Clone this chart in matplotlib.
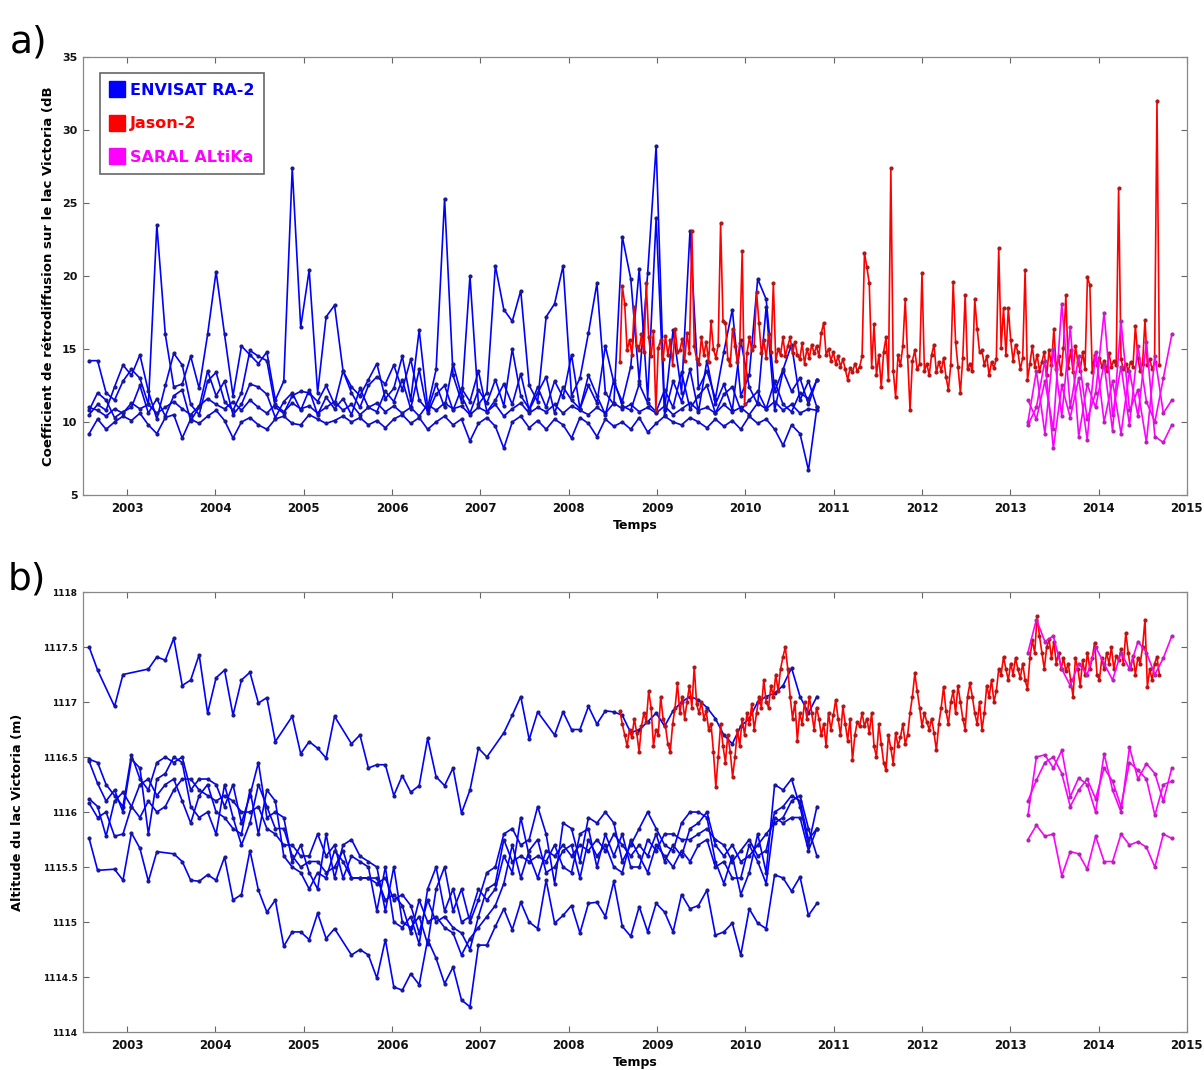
import numpy as np
import matplotlib
matplotlib.use("Agg")
import matplotlib.pyplot as plt
from matplotlib.lines import Line2D

plt.rcParams['font.family'] = ['DejaVu Sans']

# ---------------- time sampling (satellite repeat cycles) ----------------
ENVISAT_START, ENVISAT_CYCLE_DAYS = 2002.57, 35.0
JASON_START, JASON_CYCLE_DAYS = 2008.58, 9.9156
SARAL_START, SARAL_CYCLE_DAYS = 2013.20, 35.0

# ---------------- panel a : backscatter (dB) ----------------
env_sig_a = [
 [14.2, 14.2, 12.0, 11.5, 12.8, 13.6, 13.0, 11.2, 23.5, 16.0,
  12.4, 12.6, 14.5, 12.3, 16.0, 20.3, 16.0, 11.8, 15.2, 14.6,
  14.0, 14.8, 11.5, 12.8, 27.4, 16.5, 20.4, 12.0, 17.2, 18.0,
  13.5, 12.4, 11.8, 12.9, 14.0, 11.6, 12.3, 14.5, 11.5, 16.3,
  11.0, 13.6, 25.3, 13.2, 11.4, 20.0, 11.2, 12.0, 20.7, 17.7,
  16.9, 19.0, 12.5, 11.4, 17.2, 18.1, 20.7, 11.8, 13.0, 16.1,
  19.5, 12.0, 11.2, 22.7, 19.8, 12.8, 20.2, 28.9, 10.8, 16.3,
  12.0, 23.1, 12.3, 13.5, 11.6, 14.8, 17.7, 11.8, 13.2, 19.8,
  18.4, 12.1, 13.6, 15.3, 11.5, 12.8, 11.0],
 [10.5, 11.2, 10.8, 12.4, 13.9, 13.2, 14.6, 12.1, 10.2, 12.5,
  14.7, 13.9, 11.2, 10.5, 12.8, 13.4, 11.4, 10.8, 12.0, 14.9,
  14.5, 14.2, 11.0, 10.6, 11.8, 12.1, 12.0, 11.4, 12.5, 11.2,
  13.5, 12.0, 11.0, 12.5, 13.1, 12.6, 13.9, 12.2, 14.3, 11.5,
  10.8, 12.6, 11.0, 14.0, 11.8, 10.6, 12.2, 11.3, 12.9, 11.1,
  15.0, 11.8, 10.9, 12.4, 11.0, 12.8, 11.7, 14.6, 10.9, 12.5,
  11.3, 15.2, 12.7, 11.4, 13.8, 20.5, 11.6, 24.0, 10.5, 12.8,
  11.4, 13.6, 10.7, 14.2, 11.2, 12.6, 10.8, 15.6, 12.4, 11.2,
  17.9, 10.8, 13.5, 12.1, 13.0, 11.2, 12.9],
 [11.0, 10.8, 10.4, 10.9, 10.6, 11.3, 10.9, 11.2, 10.6, 11.0,
  11.4, 10.9, 10.5, 11.1, 11.6, 11.2, 10.9, 11.4, 10.8, 11.5,
  11.0, 10.6, 11.2, 10.7, 11.3, 10.9, 11.1, 10.6, 11.0, 11.4,
  10.8, 11.2, 10.5, 11.0, 11.3, 10.7, 11.1, 10.6, 11.0, 10.4,
  11.2, 10.8, 11.3, 10.9, 11.1, 10.5, 11.0, 10.7, 11.2, 10.4,
  10.9, 11.3, 10.6, 11.0, 10.7, 11.2, 10.6, 11.1, 10.8, 10.5,
  11.0, 10.6, 11.3, 10.9, 11.2, 10.7, 11.0, 10.6, 11.1, 10.5,
  10.9, 11.3, 10.8, 11.0, 10.6, 11.2, 10.7, 11.0, 10.5, 11.3,
  10.9, 11.4, 10.8, 11.2, 10.6, 10.9, 10.8],
 [9.2, 10.2, 9.5, 10.0, 10.4, 10.1, 10.6, 9.8, 9.2, 10.3,
  10.5, 8.9, 10.2, 9.9, 10.4, 10.8, 10.1, 8.9, 10.0, 10.3,
  9.8, 9.5, 10.2, 10.4, 9.9, 9.8, 10.5, 10.2, 9.9, 10.1,
  10.4, 10.0, 10.3, 9.8, 10.1, 9.6, 10.2, 10.5, 9.9, 10.3,
  9.5, 10.0, 10.4, 9.8, 10.2, 8.7, 9.9, 10.3, 9.7, 8.2,
  10.0, 10.4, 9.6, 10.1, 9.5, 10.2, 9.8, 8.9, 10.3, 9.9,
  9.0, 10.2, 9.7, 10.0, 9.5, 10.3, 9.3, 9.9, 10.4, 10.0,
  9.8, 10.3, 10.0, 9.6, 10.2, 9.7, 10.1, 9.5, 10.4, 9.9,
  10.2, 9.5, 8.4, 9.8, 9.2, 6.7, 11.0],
 [10.8, 12.0, 11.5, 10.3, 10.7, 11.0, 12.5, 10.6, 11.6, 10.4,
  11.8, 12.2, 10.1, 11.0, 13.5, 11.8, 12.8, 10.5, 11.2, 12.6,
  12.4, 11.9, 10.3, 11.4, 12.0, 10.8, 12.2, 10.5, 11.7, 10.9,
  11.6, 10.5, 12.3, 11.0, 10.7, 12.1, 11.4, 12.9, 10.9, 13.6,
  10.6, 11.9, 12.5, 10.8, 12.3, 11.4, 13.5, 10.7, 11.5, 12.6,
  11.2, 13.3, 10.8, 12.0, 13.1, 10.6, 12.4, 11.5, 10.9, 13.2,
  11.8, 10.5, 12.9, 11.1, 10.8, 12.6, 11.3, 10.7, 12.2, 11.0,
  13.4, 10.9, 11.8, 12.5, 10.6, 11.9, 12.4, 10.8, 11.5, 12.1,
  10.9, 12.8, 11.2, 10.7, 12.0, 11.6, 12.9],
]

jason_sig_a = [
 14.1, 19.3, 18.1, 14.9, 15.6, 14.6, 17.9, 15.2, 14.9, 16.0,
 14.8, 19.5, 15.8, 14.5, 16.2, 10.8, 15.1, 15.6, 14.3, 15.9,
 14.6, 15.6, 13.9, 16.4, 14.8, 14.9, 15.7, 14.2, 16.1, 14.7,
 23.1, 15.2, 14.3, 14.0, 15.8, 14.6, 15.5, 14.1, 16.9, 15.0,
 14.4, 15.3, 23.6, 16.9, 16.8, 14.3, 13.9, 16.4, 15.2, 14.1,
 15.4, 21.7, 11.2, 14.7, 15.8, 14.9, 15.2, 18.9, 16.8, 14.7,
 15.6, 14.4, 16.0, 14.8, 19.5, 14.2, 15.0, 14.6, 15.8, 14.5,
 15.2, 15.8, 14.7, 15.5, 14.6, 14.3, 15.4, 14.0, 15.0, 14.4,
 15.3, 14.7, 15.2, 14.5, 16.1, 16.8, 14.6, 15.0, 14.2, 14.8,
 14.0, 14.5, 13.8, 14.3, 13.6, 12.9, 13.7, 13.4, 14.0, 13.5,
 13.8, 14.5, 21.6, 20.6, 19.5, 13.8, 16.7, 13.2, 14.6, 12.4,
 14.8, 15.8, 12.9, 27.4, 13.5, 11.7, 14.6, 13.9, 15.2, 18.4,
 14.5, 10.8, 14.2, 14.9, 13.6, 14.0, 20.2, 13.5, 14.0, 13.2,
 14.6, 15.3, 13.4, 14.1, 13.5, 14.4, 13.1, 12.2, 13.9, 19.6,
 15.5, 13.8, 12.0, 14.4, 18.7, 13.6, 14.0, 13.5, 18.4, 16.4,
 14.8, 14.9, 13.9, 14.5, 13.2, 14.1, 13.7, 14.3, 21.9, 15.1,
 17.8, 14.6, 17.8, 15.6, 14.2, 15.3, 14.8, 13.6, 14.4, 20.4,
 12.9, 14.0, 15.2, 13.8, 14.6, 13.5, 14.1, 14.8, 13.2, 14.9,
 13.9, 16.4, 13.6, 14.5, 13.3, 15.1, 18.7, 13.7, 14.9, 13.4,
 15.2, 14.1, 13.5, 14.8, 13.6, 19.9, 19.4, 13.4, 14.6, 13.9,
 14.4, 13.8, 14.2, 13.5, 14.7, 13.8, 14.2, 13.9, 26.0, 14.3,
 13.6, 14.0, 13.5, 14.1, 13.8, 16.6, 14.4, 13.5, 14.0, 17.0,
 13.9, 14.3, 13.6, 14.1, 32.0, 13.9]

saral_sig_a = [
 [11.5, 10.2, 12.8, 9.5, 18.1, 11.0, 14.5, 10.2, 12.0, 17.5, 10.5, 13.8, 9.8, 15.2, 11.4, 10.0, 13.0, 16.0],
 [10.0, 13.5, 9.2, 15.0, 10.4, 16.5, 9.0, 12.6, 11.0, 14.0, 9.4, 16.9, 10.8, 12.2, 8.6, 14.5, 10.6, 11.5],
 [9.8, 11.0, 14.2, 8.2, 12.5, 10.3, 13.0, 8.8, 14.8, 10.0, 12.8, 9.2, 13.5, 10.4, 15.5, 9.0, 8.6, 9.8],
]

# ---------------- panel b : water level (m) ----------------
env_h_b = [
 [1117.50, 1117.29, None, 1116.96, 1117.25, None, None, 1117.30, 1117.41, 1117.38,
  1117.58, 1117.15, 1117.20, 1117.43, 1116.90, 1117.22, 1117.29, 1116.88, 1117.20, 1117.27,
  1116.99, 1117.04, 1116.64, None, 1116.87, 1116.53, 1116.64, 1116.58, 1116.49, 1116.87,
  None, 1116.62, 1116.70, 1116.40, 1116.43, 1116.43, 1116.15, 1116.33, 1116.18, 1116.24,
  1116.67, 1116.32, 1116.24, 1116.40, 1115.99, 1116.20, 1116.58, 1116.50, None, 1116.72,
  1116.88, 1117.05, 1116.66, 1116.91, None, 1116.70, 1116.91, 1116.75, 1116.75, 1116.96,
  1116.80, 1116.92, 1116.91, 1116.88, 1116.72, 1116.75, 1116.82, 1116.90, 1116.78, 1116.92,
  1117.00, 1117.05, 1117.02, 1116.95, 1116.85, 1116.70, 1116.62, 1116.78, 1116.85, 1117.00,
  1117.05, 1117.08, 1117.15, 1117.31, 1117.05, 1116.90, 1117.05],
 [1116.48, 1116.45, 1116.25, 1116.15, 1116.05, 1116.52, 1116.30, 1116.20, 1116.45, 1116.50,
  1116.45, 1116.50, 1116.20, 1116.30, 1116.30, 1116.25, 1116.05, 1116.25, 1115.90, 1116.15,
  1116.45, 1115.95, 1116.00, 1115.95, 1115.55, 1115.70, 1115.45, 1115.30, 1115.80, 1115.40,
  1115.70, 1115.75, 1115.60, 1115.55, 1115.50, 1115.10, 1115.50, 1115.00, 1114.95, 1115.05,
  1114.80, 1115.30, 1115.50, 1115.10, 1115.30, 1115.00, 1115.20, 1115.45, 1115.50, 1115.80,
  1115.85, 1115.70, 1115.75, 1116.05, 1115.80, 1115.35, 1115.90, 1115.85, 1115.55, 1115.95,
  1115.90, 1116.00, 1115.90, 1115.55, 1115.70, 1115.85, 1116.00, 1115.85, 1115.70, 1115.65,
  1115.90, 1116.00, 1116.00, 1115.95, 1115.55, 1115.35, 1115.60, 1115.25, 1115.45, 1115.80,
  1115.45, 1116.25, 1116.20, 1116.30, 1116.05, 1115.70, 1116.05],
 [1116.46, 1116.26, 1116.10, 1116.20, 1116.00, 1116.48, 1116.40, 1115.80, 1116.30, 1116.35,
  1116.50, 1116.45, 1116.05, 1115.95, 1116.00, 1115.80, 1116.25, 1115.95, 1115.70, 1115.90,
  1116.25, 1116.05, 1115.85, 1115.85, 1115.60, 1115.50, 1115.55, 1115.55, 1115.45, 1115.50,
  1115.65, 1115.40, 1115.40, 1115.40, 1115.35, 1115.40, 1115.20, 1115.25, 1115.15, 1114.90,
  1115.20, 1115.00, 1115.05, 1114.95, 1114.90, 1114.75, 1115.05, 1115.30, 1115.35, 1115.75,
  1115.55, 1115.60, 1115.55, 1115.60, 1115.55, 1115.70, 1115.50, 1115.45, 1115.80, 1115.85,
  1115.50, 1115.80, 1115.60, 1115.80, 1115.50, 1115.50, 1115.75, 1115.65, 1115.80, 1115.80,
  1115.75, 1115.75, 1115.80, 1115.85, 1115.75, 1115.70, 1115.55, 1115.65, 1115.75, 1115.60,
  1115.65, 1116.00, 1116.05, 1116.15, 1116.10, 1115.75, 1115.85],
 [1116.12, 1116.05, 1115.78, 1116.10, 1116.18, 1116.05, 1115.95, 1116.10, 1116.00, 1116.05,
  1116.20, 1116.30, 1116.30, 1116.20, 1116.15, 1116.10, 1116.15, 1116.10, 1116.00, 1116.00,
  1116.05, 1115.85, 1115.80, 1115.70, 1115.70, 1115.60, 1115.60, 1115.80, 1115.60, 1115.70,
  1115.40, 1115.60, 1115.55, 1115.50, 1115.10, 1115.50, 1115.00, 1114.95, 1115.05, 1114.80,
  1115.30, 1115.50, 1115.10, 1115.30, 1115.00, 1115.05, 1115.30, 1115.20, 1115.30, 1115.60,
  1115.45, 1115.95, 1115.60, 1115.40, 1115.65, 1115.60, 1115.70, 1115.60, 1115.70, 1115.65,
  1115.75, 1115.65, 1115.80, 1115.70, 1115.60, 1115.70, 1115.60, 1115.80, 1115.55, 1115.70,
  1115.60, 1115.85, 1115.90, 1116.00, 1115.70, 1115.60, 1115.70, 1115.55, 1115.60, 1115.70,
  1115.80, 1115.90, 1115.95, 1116.10, 1116.15, 1115.85, 1115.60],
 [1116.08, 1115.95, 1116.00, 1115.78, 1115.80, 1116.05, 1116.25, 1116.30, 1116.15, 1116.25,
  1116.30, 1116.10, 1115.90, 1116.15, 1116.25, 1116.00, 1115.95, 1115.85, 1115.80, 1116.20,
  1115.80, 1116.20, 1116.10, 1115.60, 1115.50, 1115.45, 1115.30, 1115.45, 1115.40, 1115.65,
  1115.55, 1115.40, 1115.40, 1115.40, 1115.40, 1115.20, 1115.25, 1115.15, 1114.90, 1115.20,
  1115.00, 1115.05, 1114.95, 1114.90, 1114.70, 1114.85, 1114.95, 1115.05, 1115.15, 1115.35,
  1115.70, 1115.40, 1115.65, 1115.75, 1115.45, 1115.50, 1115.65, 1115.70, 1115.40, 1115.75,
  1115.60, 1115.70, 1115.50, 1115.45, 1115.75, 1115.60, 1115.45, 1115.70, 1115.60, 1115.50,
  1115.65, 1115.55, 1115.70, 1115.75, 1115.50, 1115.55, 1115.40, 1115.40, 1115.70, 1115.55,
  1115.35, 1115.95, 1115.90, 1115.95, 1115.95, 1115.65, 1115.85],
 [1115.76, 1115.47, None, 1115.48, 1115.38, 1115.81, 1115.67, 1115.37, 1115.64, None,
  1115.62, 1115.55, 1115.38, 1115.37, 1115.43, 1115.38, 1115.59, 1115.20, 1115.25, 1115.65,
  1115.29, 1115.09, 1115.20, 1114.78, 1114.91, 1114.91, 1114.84, 1115.08, 1114.85, 1114.94,
  None, 1114.70, 1114.75, 1114.70, 1114.49, 1114.84, 1114.41, 1114.38, 1114.53, 1114.43,
  1114.84, 1114.67, 1114.44, 1114.59, 1114.29, 1114.23, 1114.79, 1114.79, 1114.96, 1115.12,
  1114.93, 1115.18, 1115.00, 1114.94, 1115.38, 1114.99, 1115.06, 1115.15, 1114.90, 1115.17,
  1115.18, 1115.05, 1115.37, 1114.96, 1114.87, 1115.14, 1114.91, 1115.17, 1115.09, 1114.91,
  1115.25, 1115.12, 1115.15, 1115.29, 1114.88, 1114.91, 1114.99, 1114.70, 1115.12, 1114.99,
  1114.94, 1115.43, 1115.40, 1115.28, 1115.41, 1115.06, 1115.17],
]

jason_h_b = [
 1116.92, 1116.80, 1116.70, 1116.60, 1116.75, 1116.68, 1116.85, 1116.72, 1116.55, 1116.78,
 1116.90, 1116.82, 1117.10, 1116.95, 1116.60, 1116.75, 1116.70, 1117.05, 1116.85, 1116.78,
 1116.62, 1116.55, 1116.80, 1116.95, 1117.17, 1116.90, 1117.05, 1116.85, 1117.00, 1117.15,
 1116.95, 1117.32, 1116.98, 1116.90, 1117.00, 1116.85, 1116.92, 1116.75, 1116.80, 1116.55,
 1116.23, 1116.50, 1116.80, 1116.60, 1116.45, 1116.70, 1116.55, 1116.32, 1116.50, 1116.75,
 1116.60, 1116.85, 1116.70, 1116.90, 1116.80, 1116.98, 1116.75, 1116.90, 1117.05, 1116.95,
 1117.20, 1117.00, 1116.95, 1117.15, 1117.05, 1117.25, 1117.10, 1117.30, 1117.41, 1117.50,
 1117.30, 1117.05, 1116.85, 1117.00, 1116.65, 1116.90, 1116.80, 1117.00, 1116.85, 1117.05,
 1116.90, 1116.75, 1116.95, 1116.85, 1116.70, 1116.80, 1116.60, 1116.90, 1116.75, 1116.88,
 1117.02, 1116.85, 1116.70, 1116.96, 1116.80, 1116.65, 1116.85, 1116.47, 1116.70, 1116.82,
 1116.78, 1116.90, 1116.78, 1116.85, 1116.72, 1116.90, 1116.60, 1116.50, 1116.80, 1116.62,
 1116.45, 1116.38, 1116.70, 1116.58, 1116.44, 1116.72, 1116.60, 1116.68, 1116.80, 1116.62,
 1116.70, 1116.90, 1117.05, 1117.26, 1117.10, 1116.95, 1116.78, 1116.90, 1116.82, 1116.75,
 1116.85, 1116.72, 1116.56, 1116.80, 1116.95, 1117.14, 1116.92, 1116.80, 1117.00, 1117.10,
 1116.90, 1117.15, 1117.00, 1116.85, 1116.75, 1117.05, 1117.17, 1117.05, 1116.90, 1116.80,
 1117.00, 1116.75, 1116.90, 1117.15, 1117.05, 1117.20, 1117.00, 1117.10, 1117.30, 1117.25,
 1117.41, 1117.30, 1117.20, 1117.35, 1117.25, 1117.40, 1117.30, 1117.22, 1117.35, 1117.20,
 1117.12, 1117.40, 1117.56, 1117.45, 1117.78, 1117.60, 1117.45, 1117.30, 1117.50, 1117.57,
 1117.40, 1117.55, 1117.35, 1117.45, 1117.30, 1117.40, 1117.28, 1117.35, 1117.20, 1117.05,
 1117.40, 1117.30, 1117.15, 1117.38, 1117.25, 1117.45, 1117.30, 1117.40, 1117.54, 1117.25,
 1117.20, 1117.40, 1117.30, 1117.45, 1117.35, 1117.50, 1117.30, 1117.42, 1117.38, 1117.48,
 1117.35, 1117.63, 1117.45, 1117.30, 1117.42, 1117.25, 1117.40, 1117.35, 1117.50, 1117.75,
 1117.14, 1117.30, 1117.20, 1117.35, 1117.41, 1117.25]

saral_h_b = [
 [1117.45, 1117.75, 1117.55, 1117.60, 1117.30, 1117.15, 1117.35, 1117.25, 1117.50, 1117.35, 1117.20, 1117.45, 1117.30, 1117.55, 1117.45, 1117.25, 1117.40, 1117.60],
 [1115.97, 1116.50, 1116.52, 1116.40, 1116.56, 1116.14, 1116.31, 1116.25, 1116.00, 1116.53, 1116.20, 1116.00, 1116.59, 1116.30, 1116.44, 1116.35, 1116.10, 1116.40],
 [1116.10, 1116.29, 1116.45, 1116.50, 1116.35, 1116.05, 1116.20, 1116.30, 1116.12, 1116.40, 1116.28, 1116.05, 1116.45, 1116.38, 1116.30, 1115.97, 1116.25, 1116.28],
 [1115.75, 1115.88, 1115.78, 1115.80, 1115.42, 1115.64, 1115.62, 1115.48, 1115.78, 1115.55, 1115.55, 1115.80, 1115.70, 1115.73, 1115.68, 1115.50, 1115.80, 1115.76],
]

year_ticks = list(range(2003, 2016))
ylabel_a = "Coefficient de rétrodiffusion sur le lac Victoria (dB"
ylabel_b = "Altitude du lac Victoria (m)"
legend_labels = ["ENVISAT RA-2", "Jason-2", "SARAL ALtiKa"]

C_ENV, C_JAS, C_SAR = "#0000ff", "#ff0000", "#ff00ff"
M_ENV, M_JAS, M_SAR = "#1a1a90", "#b01818", "#b028b0"


def times(start, cycle_days, n):
    return start + np.arange(n) * cycle_days / 365.25


def draw(ax, start, cycle, vals, color, mcolor, lw=1.2):
    v = np.array([np.nan if x is None else x for x in vals], dtype=float)
    t = times(start, cycle, len(v))
    ok = np.isfinite(v)
    ax.plot(t[ok], v[ok], '-', color=color, lw=lw, marker='.', ms=4,
            mfc=mcolor, mec=mcolor, zorder=2)


fig = plt.figure(figsize=(12.04, 10.70), dpi=100)
ax1 = fig.add_axes([0.0689, 0.5374, 0.9169, 0.4093])
ax2 = fig.add_axes([0.0689, 0.0355, 0.9169, 0.4112])

for tr in env_sig_a:
    draw(ax1, ENVISAT_START, ENVISAT_CYCLE_DAYS, tr, C_ENV, M_ENV)
draw(ax1, JASON_START, JASON_CYCLE_DAYS, jason_sig_a, C_JAS, M_JAS)
for tr in saral_sig_a:
    draw(ax1, SARAL_START, SARAL_CYCLE_DAYS, tr, C_SAR, M_SAR)

for tr in env_h_b:
    draw(ax2, ENVISAT_START, ENVISAT_CYCLE_DAYS, tr, C_ENV, M_ENV)
draw(ax2, JASON_START, JASON_CYCLE_DAYS, jason_h_b, C_JAS, M_JAS)
for tr in saral_h_b:
    draw(ax2, SARAL_START, SARAL_CYCLE_DAYS, tr, C_SAR, M_SAR)

ax1.set_ylim(5, 35)
ax1.set_yticks(np.arange(5, 36, 5))
ax2.set_ylim(1114, 1118)
ax2.set_yticks(np.arange(1114, 1118.01, 0.5))
ax2.set_yticklabels(["%g" % v for v in np.arange(1114, 1118.01, 0.5)])

for ax in (ax1, ax2):
    ax.set_xlim(2002.5, 2015)
    ax.set_xticks(year_ticks)
    ax.set_xticklabels([str(y) for y in year_ticks])
    ax.tick_params(direction='in', length=4, width=0.8, top=True, right=True,
                   colors='#666666', labelcolor='#111111')
    ax.tick_params(axis='x', labelsize=8.5, pad=5)
    for lab in ax.get_xticklabels() + ax.get_yticklabels():
        lab.set_fontweight('bold')
    for sp in ax.spines.values():
        sp.set_color('#888888')
        sp.set_linewidth(0.9)
    ax.set_xlabel("Temps", fontsize=9, fontweight='bold', labelpad=3)

ax1.tick_params(axis='y', labelsize=8, pad=4)
ax2.tick_params(axis='y', labelsize=6.5, pad=4)
for lab in ax2.get_yticklabels():
    lab.set_fontweight('bold')

ax1.set_ylabel(ylabel_a, fontsize=9.5, fontweight='bold')
ax1.yaxis.set_label_coords(-0.025, 0.5)
ax2.set_ylabel(ylabel_b, fontsize=9.3, fontweight='bold')
ax2.yaxis.set_label_coords(-0.053, 0.5)

handles = [Line2D([], [], ls='none', marker='s', ms=12, mfc=c, mec=c)
           for c in (C_ENV, C_JAS, C_SAR)]
leg = ax1.legend(handles, legend_labels, loc='upper left',
                 bbox_to_anchor=(0.0154, 0.963), borderaxespad=0,
                 prop={'size': 11.5, 'weight': 'bold'}, labelspacing=1.15,
                 handlelength=0.9, handletextpad=0.4, borderpad=0.6,
                 fancybox=False, framealpha=1, edgecolor='#666666')
leg.get_frame().set_linewidth(1.2)
for txt, c in zip(leg.get_texts(), (C_ENV, C_JAS, C_SAR)):
    txt.set_color(c)

fig.text(0.008, 0.951, "a)", fontsize=27)
fig.text(0.006, 0.449, "b)", fontsize=27)

fig.savefig("out.png", dpi=100)
